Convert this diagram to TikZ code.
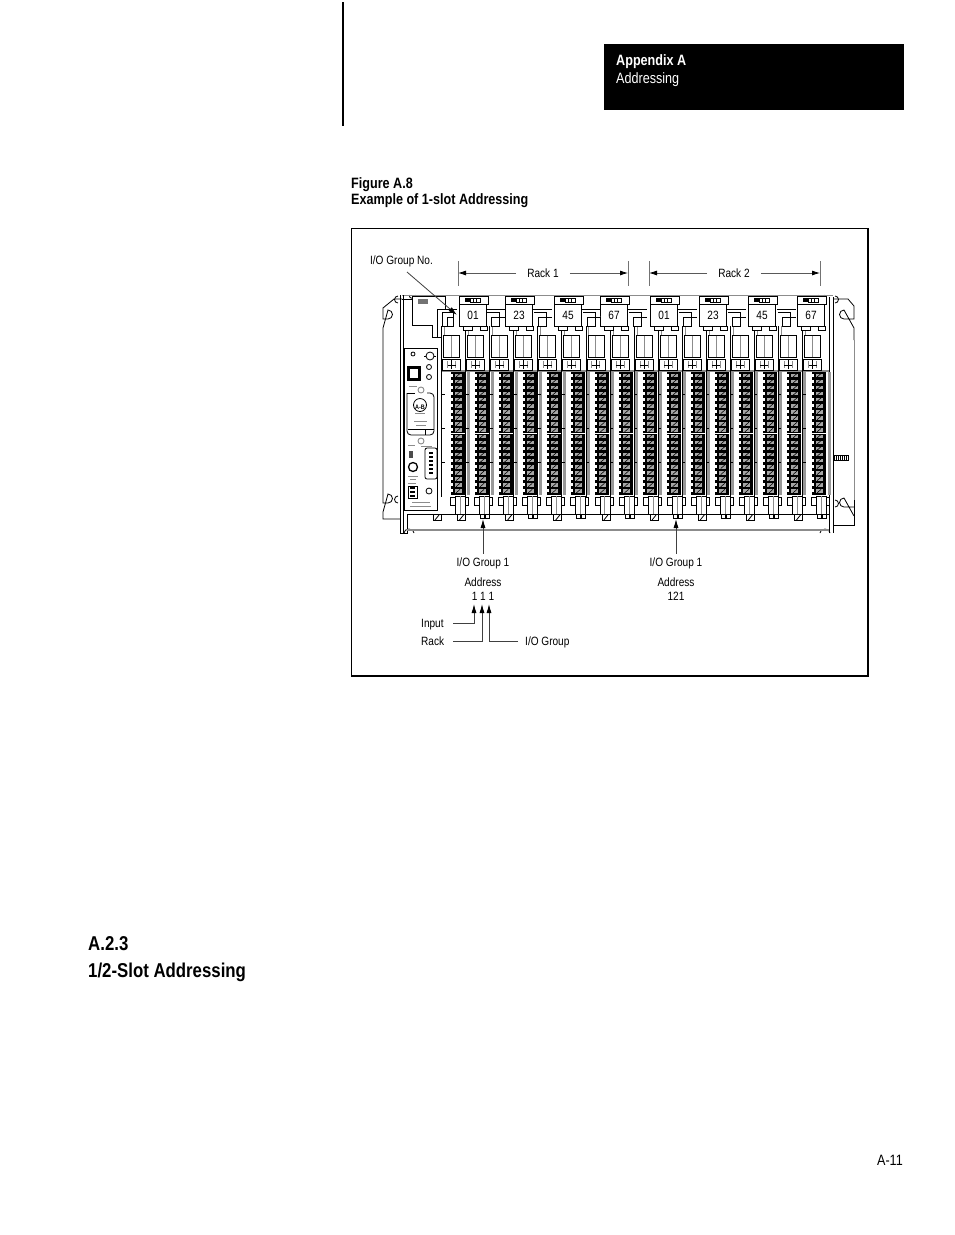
\documentclass[tikz,border=0pt]{standalone}
\usepackage{fontspec}
\setmainfont{Liberation Sans}[FakeStretch=0.84]
\usetikzlibrary{arrows.meta}

\begin{document}
\begin{tikzpicture}[x=1pt,y=-1pt]
    \tikzstyle{lbl}=[inner ysep=0pt,inner xsep=0pt,text height=8pt,text depth=0pt,font=\fontsize{12}{14}\selectfont]
    \tikzstyle{head}=[lbl,font=\fontsize{15}{17}\selectfont,anchor=west]
    \tikzstyle{headb}=[lbl,font=\fontsize{15}{17}\selectfont\bfseries,anchor=west]
    \tikzstyle{sect}=[lbl,font=\fontsize{20}{24}\selectfont\bfseries,anchor=west]
    \tikzstyle{dim}=[draw=black!65,line width=.8pt,-{Latex[length=8pt,width=5pt,black]}]
    \tikzstyle{conn}=[draw=black!75,line width=.8pt,-{Latex[length=9pt,width=5pt,black]}]
    \tikzstyle{tick}=[draw=black!55,line width=1pt]
    \tikzstyle{body}=[draw=black,line width=.8pt]
    \tikzstyle{soft}=[draw=black!45,line width=.9pt]
    \tikzstyle{numbox}=[body,fill=white]
    \useasboundingbox (0,0) rectangle (954,1235);
    \fill[white] (0,0) rectangle (954,1235);

    \draw[line width=2pt] (343,2) -- (343,126);
    \fill[black] (604,44) rectangle (904,110);
    \node[headb,text=white] (apx) at (616,61) {Appendix A};
    \node[head,text=white] (apxname) at (616,79) {Addressing};
    \node[headb] (fignum) at (351,184) {Figure A.8};
    \node[headb] (figname) at (351,200) {Example of 1-slot Addressing};
    \draw[line width=1.5pt] (351.5,228.5) rectangle (868,676);
    \node[sect] (secnum) at (88,946) {A.2.3};
    \node[sect] (secname) at (88,973) {1/2-Slot Addressing};
    \node[lbl,font=\fontsize{15}{17}\selectfont,anchor=east] (pageno) at (903,1161) {A-11};

    \draw[body] (402,299) -- (394,299) -- (383,308) -- (383,319) -- (388,319) arc (90:-90:4.5) -- (383,328) -- (383,503) -- (388,503) arc (90:-90:4.5) -- (383,512) -- (383,519) -- (400,519);
    \draw[body] (833,299) -- (848,299) -- (854,306) -- (854,319) -- (844,319) arc (90:270:4.5) -- (854,328) -- (854,340);
    \draw[soft] (854,340) -- (854,500);
    \draw[body] (854,500) -- (854,525) -- (834,525);
    \draw[body] (854,507) -- (844,507) arc (90:270:4.5) -- (854,516);
    \draw[body] (398,303) arc (90:270:3.5) (398,503) arc (90:270:3.5);
    \draw[body] (835,303) arc (90:-90:3.5) (835,507) arc (90:-90:3.5);
    \draw[body] (409,295) arc (180:0:3.5 and 3.5);
    \draw[body] (818,295) arc (180:0:3.5 and 3.5);
    \draw[body] (404,533) arc (180:360:5 and 4) (820,533) arc (180:360:5 and 4);
    \draw[soft] (402,295) -- (833,295);
    \draw[body] (402,299.5) -- (412,299.5) (400.5,295) -- (400.5,533) -- (407,533) -- (407,514) (403.5,295) -- (403.5,533) (829,297) -- (829,533) (833,297) -- (833,533);
    \draw[soft,line width=1.4pt] (407,530) -- (829,530);
    \draw[body] (407,514) -- (829,514);
    \draw[soft,line width=1.6pt] (441,371) -- (829,371);
    \draw[body,fill=white] (834,455) rectangle (848,460);
    \foreach \k in {836,838,840,842,844,846} \draw[line width=.5pt] (\k,455) -- (\k,460);

    \foreach \i in {0,...,15} {
      \pgfmathsetmacro{\c}{457.5+24.07*\i}
      \draw[body] (\c-16,326) -- (\c-16,497);
      \draw[soft] (\c-13,326) -- (\c-13,335);
      \draw[body] (\c-14,335.5) rectangle (\c+2,357);
      \draw[soft] (\c-6,335.5) -- (\c-6,357);
      \draw[body] (\c-15,359) rectangle (\c+3,370);
      \draw[soft] (\c-10,361) -- (\c-10,368) (\c-2,361) -- (\c-2,368);
      \draw[body] (\c-6,360) -- (\c-6,369) (\c-10,365) -- (\c-2,365);
      \fill[black!40] (\c+9,372) rectangle (\c+12,495);
      \foreach \t in {394,428,462} \draw[line width=1pt] (\c-16,\t) -- (\c-13,\t);
      \fill[black] (\c-7,372) rectangle (\c+7,495);
      \foreach \r in {0,...,19} {
        \fill[black!35] (\c-3,373.5+6.1*\r) rectangle (\c+4,377+6.1*\r);
        \fill[white] (\c-7,373.5+6.1*\r) rectangle (\c-5,376.5+6.1*\r);
        \draw[line width=.6pt] (\c-1.5,377+6.1*\r) -- (\c+2.5,373.5+6.1*\r);
      }
      \fill[white] (\c-7,433) rectangle (\c+7,434);
      \draw[body,fill=white] (\c-7,497) rectangle (\c+11,505);
      \draw[body,fill=white] (\c-2,496) rectangle (\c+8,514);
      \draw[soft] (\c+3,496) -- (\c+3,514);
      \pgfmathtruncatemacro{\odd}{mod(\i,2)}
      \ifnum\odd=0
        \draw[body,fill=white] (\c,514) rectangle (\c+8,520);
        \draw[body] (\c+2,520) -- (\c+6,515);
      \else
        \draw[body,fill=white] (\c-1,514) rectangle (\c+3,518) (\c+4,514) rectangle (\c+8,518);
      \fi
    }
    \draw[body,fill=white] (433,514) rectangle (441,520);
    \draw[body] (435,520) -- (439,515);

    \draw[body,fill=white] (412,296) -- (445,296) -- (445,309) -- (437,309) -- (437,337) -- (432,337) -- (432,325) -- (412,325) -- cycle;
    \fill[black!55] (418,299) rectangle (428,304);
    \draw[body,fill=white] (404,348) rectangle (437,510);
    \draw[body] (445,309) -- (457,309) (442,312) rectangle (453,326);
    \draw[body,fill=white] (447,317) rectangle (453,326);
    \draw[body] (437,337) -- (441,337);

    \draw[body] (413,354) circle (2);
    \draw[body] (430,356) circle (4);
    \draw[body] (424,356) -- (426,356) (434,356) -- (436,356);
    \fill[black] (407,366) rectangle (421,381);
    \fill[white] (410,369) rectangle (418,378);
    \draw[body] (429,367) circle (2.5) (429,377) circle (2.5);
    \draw[soft] (409,386) -- (417,386);
    \draw[body,rounded corners=4pt] (407,393) -- (407,435) -- (434,435) -- (434,393) -- (427,393);
    \draw[body] (407,393) -- (415,393);
    \draw[soft] (421,390) circle (3);
    \draw[body] (420,405) circle (6.5);
    \node[lbl,font=\bfseries\fontsize{6.5}{7}\selectfont] (logo) at (420,405) {A-B};
    \draw[soft] (415,413) -- (425,413) (414,421) -- (427,421) (416,425) -- (426,425);
    \draw[body] (408,429) -- (434,429) (425,429) -- (425,435);
    \draw[soft] (421,441) circle (3);
    \fill[black!70] (409,451) rectangle (413,458);
    \draw[soft] (408,445) -- (415,445) (421,446) -- (432,446);
    \draw[body,rounded corners=2pt] (425,448) rectangle (437,479);
    \foreach \k in {452,456,460,464,468,472} \fill[black] (429,\k) rectangle (433,\k+2);
    \draw[line width=1.3pt] (413,467) circle (4.5);
    \draw[soft] (408,476) -- (418,476) (410,479) -- (416,479) (408,483) -- (416,483);
    \draw[body,fill=white] (408,486) rectangle (417,498);
    \foreach \k in {489,493,497} \fill[black] (410,\k-2) rectangle (415,\k);
    \draw[body] (429,491) circle (3);
    \draw[soft] (412,502) -- (430,502) (410,506) -- (431,506);

    \foreach \x/\t/\n in {459/01/g1,505/23/g2,554/45/g3,600/67/g4,650/01/g5,699/23/g6,748/45/g7,797/67/g8} {
      \draw[body,fill=white] (\x+4,326) rectangle (\x+13,330) (\x+21,326) rectangle (\x+28,330);
      \draw[numbox] (\x,296) -- (\x+29,296) -- (\x+29,304) -- (\x+27,304) -- (\x+27,326) -- (\x,326) -- cycle;
      \draw[body] (\x,304) -- (\x+27,304);
      \fill[black] (\x+6,298) rectangle (\x+11,302);
      \draw[line width=.6pt] (\x+11,298) rectangle (\x+21,302) (\x+14,298) -- (\x+14,302) (\x+17,298) -- (\x+17,302);
      \node[lbl] (\n) at (\x+14,315) {\t};
    }
    \foreach \x in {486,533,582,628,678,727,777} {
      \draw[body] (\x,309) -- (\x+19,309);
      \draw[body,fill=white] (\x+1,312) -- (\x+13,312) -- (\x+13,317) -- (\x+19,317);
      \draw[body,fill=white] (\x+5,317) rectangle (\x+13,326);
    }

    \node[lbl] (iogroupno) at (401.5,260) {I/O Group No.};
    \coordinate (slottop) at (407,272);
    \coordinate (slotmark) at (457,315);
    \draw[conn] (slottop) -- (slotmark);

    \coordinate (rackonel) at (458,273);
    \coordinate (rackoner) at (628,273);
    \coordinate (racktwol) at (649,273);
    \coordinate (racktwor) at (820,273);
    \node[lbl,inner xsep=11pt] (rackone) at (543,273) {Rack 1};
    \node[lbl,inner xsep=11pt] (racktwo) at (734,273) {Rack 2};
    \draw[dim] (rackone) -- (rackonel);
    \draw[dim] (rackone) -- (rackoner);
    \draw[dim] (racktwo) -- (racktwol);
    \draw[dim] (racktwo) -- (racktwor);
    \foreach \x in {458,628,649,820} \draw[tick] (\x,261) -- (\x,286);

    \node[lbl] (groupa) at (483,562) {I/O Group 1};
    \node[lbl] (addra) at (483,582) {Address};
    \node[lbl] (numa) at (483,596) {1 1 1};
    \node[lbl] (groupb) at (676,562) {I/O Group 1};
    \node[lbl] (addrb) at (676,582) {Address};
    \node[lbl] (numb) at (676,596) {121};
    \coordinate (slota) at (483,519);
    \coordinate (slotb) at (676,519);
    \draw[conn] (groupa.north)+(0,-4) -- (slota);
    \draw[conn] (groupb.north)+(0,-4) -- (slotb);

    \node[lbl,anchor=west] (inputlbl) at (421,623) {Input};
    \node[lbl,anchor=west] (racklbl) at (421,641) {Rack};
    \node[lbl,anchor=west] (grouplbl) at (525,641) {I/O Group};
    \coordinate (inputfrom) at (453,623);
    \coordinate (rackfrom) at (453,641);
    \coordinate (groupfrom) at (518,641);
    \coordinate (inputto) at (474,604);
    \coordinate (rackto) at (482,604);
    \coordinate (groupto) at (489,604);
    \draw[conn] (inputfrom) -| (inputto);
    \draw[conn] (rackfrom) -| (rackto);
    \draw[conn] (groupfrom) -| (groupto);
\end{tikzpicture}
\end{document}
